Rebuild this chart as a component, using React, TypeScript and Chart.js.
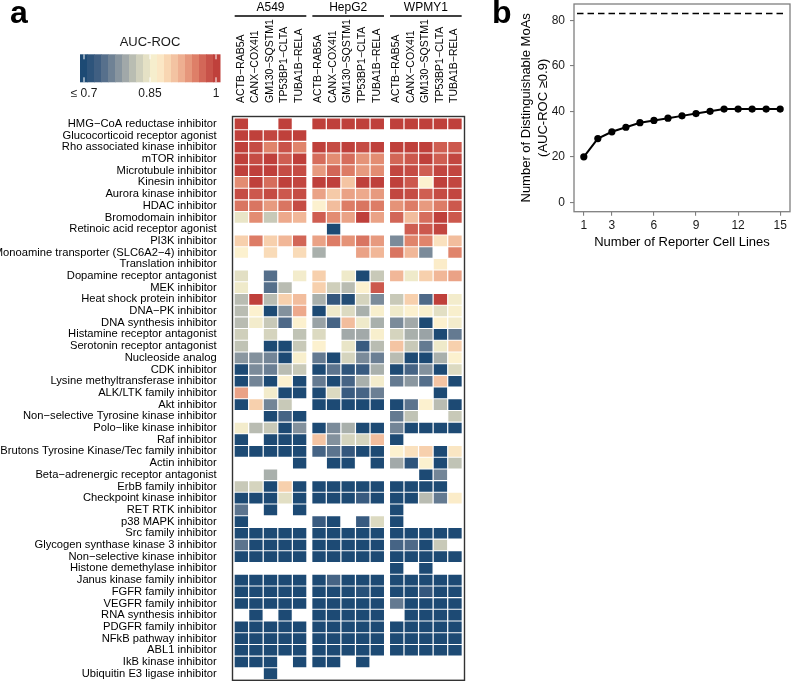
import React, { useEffect, useRef } from "react";
import { Chart, registerables } from "chart.js";

Chart.register(...registerables);

const FONT = "'Liberation Sans', Arial, Helvetica, sans-serif";
Chart.defaults.font.family = FONT;

// ---------------- DATA ----------------
const moaLabels = [
  "HMG−CoA reductase inhibitor",
  "Glucocorticoid receptor agonist",
  "Rho associated kinase inhibitor",
  "mTOR inhibitor",
  "Microtubule inhibitor",
  "Kinesin inhibitor",
  "Aurora kinase inhibitor",
  "HDAC inhibitor",
  "Bromodomain inhibitor",
  "Retinoic acid receptor agonist",
  "PI3K inhibitor",
  "Monoamine transporter (SLC6A2−4) inhibitor",
  "Translation inhibitor",
  "Dopamine receptor antagonist",
  "MEK inhibitor",
  "Heat shock protein inhibitor",
  "DNA−PK inhibitor",
  "DNA synthesis inhibitor",
  "Histamine receptor antagonist",
  "Serotonin receptor antagonist",
  "Nucleoside analog",
  "CDK inhibitor",
  "Lysine methyltransferase inhibitor",
  "ALK/LTK family inhibitor",
  "Akt inhibitor",
  "Non−selective Tyrosine kinase inhibitor",
  "Polo−like kinase inhibitor",
  "Raf inhibitor",
  "Brutons Tyrosine Kinase/Tec family inhibitor",
  "Actin inhibitor",
  "Beta−adrenergic receptor antagonist",
  "ErbB family inhibitor",
  "Checkpoint kinase inhibitor",
  "RET RTK inhibitor",
  "p38 MAPK inhibitor",
  "Src family inhibitor",
  "Glycogen synthase kinase 3 inhibitor",
  "Non−selective kinase inhibitor",
  "Histone demethylase inhibitor",
  "Janus kinase family inhibitor",
  "FGFR family inhibitor",
  "VEGFR family inhibitor",
  "RNA synthesis inhibitor",
  "PDGFR family inhibitor",
  "NFkB pathway inhibitor",
  "ABL1 inhibitor",
  "IkB kinase inhibitor",
  "Ubiquitin E3 ligase inhibitor",
];

const cellLines = ["A549", "HepG2", "WPMY1"];
const reporterLabels = ["ACTB−RAB5A", "CANX−COX4I1", "GM130−SQSTM1", "TP53BP1−CLTA", "TUBA1B−RELA"];

const N = null;
// AUC-ROC per MoA (rows) x reporter (columns), one array per cell line
const a549Auc: (number | null)[][] = [
  [1, N, N, 1, N],
  [1, 1, 0.995, 1, 1],
  [1, 0.99, 0.95, 0.985, 0.95],
  [1, 0.99, 1, 0.975, 1],
  [1, 1, 1, 0.99, 0.99],
  [0.945, 1, 0.965, 1, 0.995],
  [0.99, 0.98, 0.99, 0.98, 0.99],
  [0.96, 0.96, 0.935, 0.96, 0.99],
  [0.845, 0.945, 0.82, 0.925, 0.915],
  [N, N, N, N, N],
  [0.895, 0.955, 0.895, 0.915, 0.97],
  [0.865, N, 0.885, N, 0.885],
  [N, N, N, N, N],
  [0.84, N, 0.745, N, 0.855],
  [0.85, N, 0.745, 0.81, N],
  [0.81, 1, 0.81, 0.895, 0.91],
  [0.81, 0.865, 0.7, 0.775, 0.925],
  [0.81, 0.855, 0.82, 0.74, 0.865],
  [0.825, N, 0.83, N, 0.815],
  [0.815, N, 0.7, 0.7, 0.82],
  [0.78, 0.775, 0.765, 0.7, 0.86],
  [0.7, 0.77, 0.76, 0.81, 0.82],
  [0.7, 0.765, 0.7, 0.865, 0.7],
  [0.93, N, 0.855, 0.7, 0.7],
  [0.7, 0.895, 0.765, 0.82, N],
  [N, N, 0.7, 0.735, 0.7],
  [0.855, 0.81, 0.82, 0.7, 0.775],
  [0.7, N, 0.7, 0.7, 0.7],
  [0.7, 0.7, 0.7, 0.7, 0.7],
  [N, N, N, N, 0.7],
  [N, N, 0.8, N, N],
  [0.82, 0.83, 0.7, 0.895, 0.7],
  [0.7, 0.7, 0.7, 0.84, 0.7],
  [0.75, N, 0.7, N, 0.7],
  [0.7, N, N, N, N],
  [0.7, 0.7, 0.7, 0.7, 0.7],
  [0.75, 0.7, 0.7, 0.7, 0.7],
  [0.7, 0.7, 0.7, 0.7, 0.7],
  [N, N, N, N, N],
  [0.7, 0.7, 0.7, 0.7, 0.7],
  [0.7, 0.7, 0.7, 0.7, 0.7],
  [0.7, 0.7, 0.7, 0.7, 0.7],
  [N, 0.7, N, 0.7, N],
  [0.7, 0.7, 0.7, 0.7, 0.7],
  [0.7, 0.7, 0.7, 0.7, 0.7],
  [0.7, 0.7, 0.7, 0.7, 0.7],
  [0.7, 0.7, 0.7, N, 0.7],
  [N, N, 0.7, N, N],
];

const hepg2Auc: (number | null)[][] = [
  [1, 1, 1, 1, 1],
  [N, N, N, N, N],
  [1, 0.99, 1, 0.99, 1],
  [0.965, 0.945, 0.965, 0.94, 0.945],
  [0.935, 0.97, 0.955, 0.935, 0.945],
  [1, 1, 0.905, 1, 1],
  [0.93, 0.9, 0.93, 0.925, 0.935],
  [0.865, 0.91, 0.955, 0.96, 0.955],
  [0.975, 0.945, 0.93, 1, 0.93],
  [N, 0.7, N, N, N],
  [0.93, 0.955, 0.94, 0.96, 0.935],
  [0.8, N, N, 0.93, 0.915],
  [N, N, N, N, N],
  [0.895, N, 0.85, 0.7, 0.82],
  [0.895, 0.825, 0.81, 0.865, 0.98],
  [0.8, 0.72, 0.705, 0.83, 0.77],
  [0.7, 0.85, 0.835, 0.8, 0.86],
  [0.79, 0.735, 0.91, 0.85, 0.8],
  [0.835, N, 0.795, 0.795, 0.86],
  [0.865, N, 0.845, 0.725, 0.81],
  [0.755, 0.7, 0.83, 0.77, 0.76],
  [0.7, 0.75, 0.715, 0.725, 0.8],
  [0.755, 0.7, 0.735, 0.8, 0.855],
  [0.7, 0.835, 0.725, 0.735, 0.76],
  [0.7, 0.7, 0.7, 0.7, 0.7],
  [N, N, N, N, N],
  [0.7, 0.77, 0.8, 0.7, 0.7],
  [0.905, 0.775, 0.83, 0.83, 0.91],
  [0.735, 0.75, 0.72, 0.7, 0.7],
  [N, 0.7, 0.7, N, 0.7],
  [N, N, N, N, N],
  [0.7, 0.7, 0.7, 0.7, 0.7],
  [0.7, 0.7, 0.7, 0.725, 0.7],
  [N, N, N, N, N],
  [0.725, 0.7, N, 0.725, 0.835],
  [0.7, 0.7, 0.7, 0.7, 0.7],
  [0.7, 0.7, 0.7, 0.7, 0.7],
  [0.7, 0.7, 0.7, 0.7, 0.7],
  [N, N, N, N, N],
  [0.7, 0.735, 0.7, 0.7, 0.7],
  [0.7, 0.7, 0.7, 0.71, 0.7],
  [0.7, 0.7, 0.7, 0.7, 0.7],
  [0.7, 0.7, 0.7, 0.7, 0.7],
  [0.7, 0.7, 0.7, 0.7, 0.7],
  [0.7, 0.7, 0.7, 0.7, 0.7],
  [0.7, 0.7, 0.7, 0.7, 0.7],
  [0.7, 0.7, N, 0.7, N],
  [N, N, N, N, N],
];

const wpmy1Auc: (number | null)[][] = [
  [1, 1, 1, 1, 1],
  [N, N, N, N, N],
  [1, 1, 1, 0.975, 0.98],
  [0.97, 0.98, 1, 0.975, 0.995],
  [0.995, 0.99, 0.975, 0.995, 0.995],
  [1, 0.98, 0.865, 1, 0.995],
  [0.995, 0.99, 0.975, 0.99, 0.995],
  [0.94, 0.955, 0.935, 0.955, 0.98],
  [0.97, 0.91, 0.965, 1, 0.98],
  [N, 0.975, 0.98, 0.995, N],
  [0.77, 0.95, 0.95, 0.88, 0.91],
  [0.96, 0.915, 0.77, N, 0.95],
  [N, N, N, 0.87, N],
  [0.915, 0.85, 0.895, 0.915, 0.93],
  [N, N, N, N, N],
  [0.82, 0.895, 0.74, 1, 0.855],
  [0.85, 0.865, 0.86, 0.84, 0.86],
  [0.77, 0.795, 0.7, 0.865, 0.855],
  [0.83, 0.8, 0.79, 0.7, 0.755],
  [0.905, 0.82, 0.755, 0.85, 0.895],
  [0.81, 0.7, 0.7, 0.8, 0.865],
  [0.7, 0.735, 0.775, 0.7, 0.835],
  [0.755, 0.78, 0.745, 0.905, 0.7],
  [N, N, N, 0.7, N],
  [0.7, 0.75, 0.865, 0.81, 0.7],
  [0.755, 0.815, N, N, 0.82],
  [0.765, 0.7, 0.7, 0.7, 0.7],
  [0.7, N, N, N, N],
  [0.865, 0.88, 0.895, 0.7, 0.875],
  [0.795, 0.715, 0.865, 0.7, 0.815],
  [N, N, 0.7, 0.765, N],
  [0.7, 0.7, 0.7, 0.7, N],
  [0.7, 0.7, 0.81, 0.755, 0.87],
  [0.7, N, N, N, N],
  [0.7, N, N, N, N],
  [0.7, 0.7, 0.7, 0.7, 0.7],
  [0.735, 0.74, 0.7, 0.82, N],
  [0.7, 0.7, 0.7, 0.7, 0.7],
  [0.7, N, 0.7, N, N],
  [0.7, 0.7, 0.7, 0.7, 0.7],
  [0.7, 0.7, 0.72, 0.7, 0.7],
  [0.755, 0.7, 0.7, 0.7, 0.7],
  [N, 0.7, 0.7, 0.7, 0.7],
  [0.7, 0.7, 0.7, 0.7, 0.7],
  [0.7, 0.7, 0.7, 0.7, 0.7],
  [0.7, 0.7, 0.7, 0.7, 0.7],
  [N, N, N, N, N],
  [N, N, N, N, N],
];

const groupAuc = [a549Auc, hepg2Auc, wpmy1Auc];

const colorbarTicks = [0.7, 0.85, 1];
const colorbarTickLabels = ["≤ 0.7", "0.85", "1"];

// Panel b
const reporterCount = [1, 2, 3, 4, 5, 6, 7, 8, 9, 10, 11, 12, 13, 14, 15];
const distinguishableMoAs = [20, 28, 31, 33, 35, 36, 37, 38, 39, 40, 41, 41, 41, 41, 41];
const totalMoAs = 83;
const xTicksB = [1, 3, 6, 9, 12, 15];
const yTicksB = [0, 20, 40, 60, 80];

// ---------------- COLOUR SCALE ----------------
const colorStops: [number, string][] = [
  [0.7, "#1d4a74"],
  [0.73, "#3f5e82"],
  [0.76, "#6b7f94"],
  [0.79, "#9aa3a6"],
  [0.82, "#c8c9b8"],
  [0.85, "#efeaca"],
  [0.865, "#fcf1cf"],
  [0.89, "#f8d6b2"],
  [0.92, "#efb193"],
  [0.95, "#e0846b"],
  [0.975, "#cf5e52"],
  [1.0, "#bf403b"],
];
function hexRgb(h: string) {
  return [parseInt(h.slice(1, 3), 16), parseInt(h.slice(3, 5), 16), parseInt(h.slice(5, 7), 16)];
}
function aucColor(v: number) {
  const x = Math.max(0.7, Math.min(1, v));
  for (let i = 1; i < colorStops.length; i++) {
    const [v1, c1] = colorStops[i];
    const [v0, c0] = colorStops[i - 1];
    if (x <= v1) {
      const t = (x - v0) / (v1 - v0);
      const a = hexRgb(c0);
      const b = hexRgb(c1);
      const r = a.map((k, j) => Math.round(k + (b[j] - k) * t));
      return `rgb(${r[0]},${r[1]},${r[2]})`;
    }
  }
  return colorStops[colorStops.length - 1][1];
}

// ---------------- HEATMAP LAYOUT ----------------
const X_PAD = 0.15;
const GROUP_GAP = 0.33;
const CELL_W = 0.915;
const X_MAX = 15.92;
const colStart = (g: number, c: number) => X_PAD + g * (5 + GROUP_GAP) + c;
const colCenters: number[] = [];
cellLines.forEach((_, g) => reporterLabels.forEach((__, c) => colCenters.push(colStart(g, c) + CELL_W / 2)));

const heatmapDecor = {
  id: "heatmapDecor",
  afterDraw(chart: any) {
    const { ctx, chartArea: ca, scales } = chart;
    const xs = scales.x;
    ctx.save();
    // panel frame
    ctx.strokeStyle = "#333";
    ctx.lineWidth = 1.4;
    ctx.strokeRect(ca.left, ca.top - 1.5, ca.right - ca.left, ca.bottom - ca.top + 2.3);
    // cell line group headers
    ctx.fillStyle = "#000";
    ctx.font = `12px ${FONT}`;
    ctx.textAlign = "center";
    ctx.textBaseline = "middle";
    cellLines.forEach((name, g) => {
      const x0 = xs.getPixelForValue(colStart(g, 0));
      const x1 = xs.getPixelForValue(colStart(g, 4) + CELL_W);
      ctx.fillText(name, (x0 + x1) / 2, 7.5);
      ctx.beginPath();
      ctx.moveTo(x0, 16);
      ctx.lineTo(x1, 16);
      ctx.strokeStyle = "#000";
      ctx.lineWidth = 1.4;
      ctx.stroke();
    });
    // colour bar legend
    const L = 80, R = 220, T = 54.3, B = 82.3, X0 = 84, X1 = 216;
    const nb = 20;
    const bw = (R - L) / nb;
    for (let i = 0; i < nb; i++) {
      const xc = L + bw * (i + 0.5);
      const v = 0.7 + ((xc - X0) / (X1 - X0)) * 0.3;
      ctx.fillStyle = aucColor(v);
      ctx.fillRect(L + bw * i, T, bw + 0.5, B - T);
    }
    ctx.strokeStyle = "#fff";
    ctx.lineWidth = 1;
    colorbarTicks.forEach((t) => {
      const x = X0 + ((t - 0.7) / 0.3) * (X1 - X0);
      ctx.beginPath();
      ctx.moveTo(x, T);
      ctx.lineTo(x, T + 5);
      ctx.moveTo(x, B - 5);
      ctx.lineTo(x, B);
      ctx.stroke();
    });
    ctx.fillStyle = "#1a1a1a";
    ctx.font = `13px ${FONT}`;
    ctx.textAlign = "center";
    ctx.fillText("AUC-ROC", (L + R) / 2, 42.7);
    ctx.font = `12px ${FONT}`;
    colorbarTicks.forEach((t, i) => {
      const x = X0 + ((t - 0.7) / 0.3) * (X1 - X0);
      ctx.fillText(colorbarTickLabels[i], x, 93.5);
    });
    ctx.restore();
  },
};

function heatConfig(): any {
  const datasets: any[] = [];
  groupAuc.forEach((arr, g) => {
    reporterLabels.forEach((rep, c) => {
      datasets.push({
        label: `${cellLines[g]} ${rep}`,
        data: arr.map((row) => (row[c] == null ? null : [colStart(g, c), colStart(g, c) + CELL_W])),
        backgroundColor: (ctx: any) => {
          const v = arr[ctx.dataIndex] ? arr[ctx.dataIndex][c] : null;
          return v == null ? "rgba(0,0,0,0)" : aucColor(v);
        },
        borderWidth: 0,
      });
    });
  });
  return {
    type: "bar",
    data: { labels: moaLabels, datasets },
    options: {
      indexAxis: "y",
      animation: false,
      responsive: false,
      devicePixelRatio: 1,
      events: [],
      layout: { padding: { left: 0, top: 0, right: 480 - 464.5, bottom: 1.5 } },
      plugins: { legend: { display: false }, tooltip: { enabled: false } },
      datasets: { bar: { grouped: false, categoryPercentage: 0.91, barPercentage: 1 } },
      scales: {
        x: { type: "linear", min: 0, max: X_MAX, display: false },
        xTop: {
          type: "linear",
          axis: "x",
          position: "top",
          min: 0,
          max: X_MAX,
          grid: { display: false },
          border: { display: false },
          afterBuildTicks: (s: any) => {
            s.ticks = colCenters.map((v) => ({ value: v }));
          },
          afterFit: (s: any) => {
            s.height = 118;
            s.paddingLeft = 0;
            s.paddingRight = 0;
          },
          ticks: {
            autoSkip: false,
            minRotation: 90,
            maxRotation: 90,
            padding: 7,
            labelOffset: 12,
            color: "#000",
            font: { size: 10.5, family: FONT },
            callback: (_v: any, i: number) => reporterLabels[i % 5],
          },
        },
        y: {
          type: "category",
          position: "left",
          grid: { display: false },
          border: { display: false },
          afterFit: (s: any) => {
            s.width = 232.5;
            s.paddingTop = 0;
            s.paddingBottom = 0;
          },
          ticks: {
            autoSkip: false,
            padding: 7.8,
            color: "#000",
            font: { size: 11.2, family: FONT, lineHeight: 1 },
          },
        },
      },
    },
    plugins: [heatmapDecor],
  };
}

// ---------------- PANEL B ----------------
const lineDecor = {
  id: "lineDecor",
  beforeDatasetsDraw(chart: any) {
    const { ctx, chartArea: ca, scales } = chart;
    const y = scales.y.getPixelForValue(totalMoAs);
    ctx.save();
    ctx.strokeStyle = "#000";
    ctx.lineWidth = 1.4;
    ctx.setLineDash([6.5, 4]);
    ctx.beginPath();
    ctx.moveTo(ca.left + 3, y);
    ctx.lineTo(ca.right - 3, y);
    ctx.stroke();
    ctx.restore();
  },
  afterDraw(chart: any) {
    const { ctx, chartArea: ca } = chart;
    ctx.save();
    ctx.strokeStyle = "#7f7f7f";
    ctx.lineWidth = 1.3;
    ctx.strokeRect(ca.left, ca.top, ca.right - ca.left, ca.bottom - ca.top);
    ctx.restore();
  },
};

function lineConfig(): any {
  return {
    type: "line",
    data: {
      datasets: [
        {
          data: reporterCount.map((x, i) => ({ x, y: distinguishableMoAs[i] })),
          borderColor: "#000",
          backgroundColor: "#000",
          borderWidth: 2,
          pointRadius: 3.6,
          pointBackgroundColor: "#000",
          pointBorderWidth: 0,
          tension: 0,
        },
      ],
    },
    options: {
      animation: false,
      responsive: false,
      devicePixelRatio: 1,
      events: [],
      layout: { padding: { left: 0, top: 1.7, right: 0.7, bottom: 0 } },
      plugins: { legend: { display: false }, tooltip: { enabled: false } },
      scales: {
        x: {
          type: "linear",
          min: 0.3,
          max: 15.7,
          afterBuildTicks: (s: any) => {
            s.ticks = xTicksB.map((v) => ({ value: v }));
          },
          afterFit: (s: any) => {
            s.height = 38.3;
            s.paddingLeft = 0;
            s.paddingRight = 0;
          },
          grid: { drawOnChartArea: false, tickLength: 4, color: "#7f7f7f", lineWidth: 1.1 },
          border: { display: false },
          ticks: { padding: 3, color: "#1a1a1a", font: { size: 12, family: FONT } },
          title: {
            display: true,
            text: "Number of Reporter Cell Lines",
            color: "#000",
            font: { size: 13, family: FONT, lineHeight: 1.2 },
            padding: { top: 0, bottom: 0 },
          },
        },
        y: {
          type: "linear",
          min: -4.15,
          max: 87.2,
          afterBuildTicks: (s: any) => {
            s.ticks = yTicksB.map((v) => ({ value: v }));
          },
          afterFit: (s: any) => {
            s.width = 74;
            s.paddingTop = 0;
            s.paddingBottom = 0;
          },
          grid: { drawOnChartArea: false, tickLength: 4, color: "#7f7f7f", lineWidth: 1.1 },
          border: { display: false },
          ticks: { padding: 5, color: "#1a1a1a", font: { size: 12, family: FONT } },
          title: {
            display: true,
            text: ["Number of Distinguishable MoAs", "(AUC-ROC ≥0.9)"],
            color: "#000",
            font: { size: 13, family: FONT, lineHeight: 1.28 },
            padding: { top: 18.4, bottom: 0 },
          },
        },
      },
    },
    plugins: [lineDecor],
  };
}

const letterStyle = (left: number): React.CSSProperties => ({
  position: "absolute",
  left,
  top: -3.8,
  fontFamily: FONT,
  fontWeight: "bold",
  fontSize: 32,
  lineHeight: "32px",
  color: "#000",
});

export default function App() {
  const heatRef = useRef<HTMLCanvasElement>(null);
  const lineRef = useRef<HTMLCanvasElement>(null);
  useEffect(() => {
    const h = new Chart(heatRef.current as HTMLCanvasElement, heatConfig());
    const l = new Chart(lineRef.current as HTMLCanvasElement, lineConfig());
    return () => {
      h.destroy();
      l.destroy();
    };
  }, []);
  return (
    <div
      style={{
        position: "fixed",
        left: 0,
        top: 0,
        width: 794,
        height: 681,
        overflow: "hidden",
        background: "#fff",
      }}
    >
      <canvas
        ref={heatRef}
        width={480}
        height={681}
        style={{ position: "absolute", left: 0, top: 0, width: 480, height: 681 }}
      />
      <canvas
        ref={lineRef}
        width={294}
        height={250}
        style={{ position: "absolute", left: 500, top: 0, width: 294, height: 250 }}
      />
      <div style={letterStyle(10)}>a</div>
      <div style={letterStyle(492)}>b</div>
    </div>
  );
}
